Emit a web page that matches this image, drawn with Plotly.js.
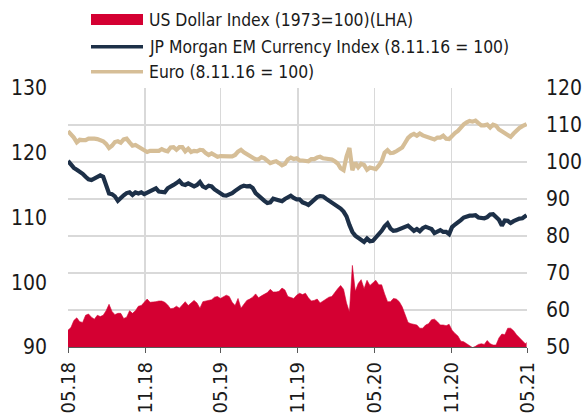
<!DOCTYPE html>
<html>
<head>
<meta charset="utf-8">
<script src="https://cdn.plot.ly/plotly-3.0.1.min.js"></script>
<style>html,body{margin:0;padding:0;background:#fff;}#chart{width:584px;height:417px;}</style>
</head>
<body>
<div id="chart"></div>
<script>
// ---- data (weekly readings) ----
const dates = [
"2018-05-01","2018-05-08","2018-05-15","2018-05-22","2018-05-29","2018-06-05","2018-06-12","2018-06-19","2018-06-26","2018-07-03",
"2018-07-10","2018-07-17","2018-07-24","2018-07-31","2018-08-07","2018-08-14","2018-08-21","2018-08-28","2018-09-04","2018-09-11",
"2018-09-18","2018-09-25","2018-10-02","2018-10-09","2018-10-16","2018-10-23","2018-10-30","2018-11-06","2018-11-13","2018-11-20",
"2018-11-27","2018-12-04","2018-12-11","2018-12-18","2018-12-25","2019-01-01","2019-01-08","2019-01-15","2019-01-22","2019-01-29",
"2019-02-05","2019-02-12","2019-02-19","2019-02-26","2019-03-05","2019-03-12","2019-03-19","2019-03-26","2019-04-02","2019-04-09",
"2019-04-16","2019-04-23","2019-04-30","2019-05-07","2019-05-14","2019-05-21","2019-05-28","2019-06-04","2019-06-11","2019-06-18",
"2019-06-25","2019-07-02","2019-07-09","2019-07-16","2019-07-23","2019-07-30","2019-08-06","2019-08-13","2019-08-20","2019-08-27",
"2019-09-03","2019-09-10","2019-09-17","2019-09-24","2019-10-01","2019-10-08","2019-10-15","2019-10-22","2019-10-29","2019-11-05",
"2019-11-12","2019-11-19","2019-11-26","2019-12-03","2019-12-10","2019-12-17","2019-12-24","2019-12-31","2020-01-07","2020-01-14",
"2020-01-21","2020-01-28","2020-02-04","2020-02-11","2020-02-18","2020-02-25","2020-03-03","2020-03-10","2020-03-17","2020-03-24",
"2020-03-31","2020-04-07","2020-04-14","2020-04-21","2020-04-28","2020-05-05","2020-05-12","2020-05-19","2020-05-26","2020-06-02",
"2020-06-09","2020-06-16","2020-06-23","2020-06-30","2020-07-07","2020-07-14","2020-07-21","2020-07-28","2020-08-04","2020-08-11",
"2020-08-18","2020-08-25","2020-09-01","2020-09-08","2020-09-15","2020-09-22","2020-09-29","2020-10-06","2020-10-13","2020-10-20",
"2020-10-27","2020-11-03","2020-11-10","2020-11-17","2020-11-24","2020-12-01","2020-12-08","2020-12-15","2020-12-22","2020-12-29",
"2021-01-05","2021-01-12","2021-01-19","2021-01-26","2021-02-02","2021-02-09","2021-02-16","2021-02-23","2021-03-02","2021-03-09",
"2021-03-16","2021-03-23","2021-03-30","2021-04-06","2021-04-13","2021-04-20","2021-04-27","2021-04-30"
];

const usdIndex = [
92.6,93.0,94.1,94.5,93.9,93.8,94.9,95.1,94.6,94.3,
94.9,94.7,94.9,95.6,96.6,95.5,95.0,95.2,95.2,94.4,
94.6,95.6,95.2,95.6,96.3,96.4,96.9,97.4,96.9,96.9,
97.0,97.1,97.1,96.9,96.5,95.9,96.0,96.3,96.0,96.5,
97.0,96.4,96.8,97.2,96.8,96.0,97.0,97.1,97.2,97.3,
97.7,97.8,97.5,97.7,98.0,97.8,96.9,96.4,97.5,96.0,
96.7,97.2,97.4,97.7,98.2,97.6,97.9,98.2,98.4,98.9,
98.5,98.5,98.6,99.1,98.8,97.8,97.7,97.5,98.0,98.3,
98.1,98.3,97.6,97.1,97.2,97.4,96.8,97.1,97.5,97.7,
97.8,98.5,99.0,99.5,98.9,96.8,95.4,102.6,98.6,99.8,
100.4,99.0,100.3,99.5,99.9,100.3,99.6,99.6,98.2,97.0,
97.0,97.5,97.4,97.0,96.2,95.0,93.8,93.6,93.5,93.4,
92.9,92.9,93.4,93.6,94.2,94.3,93.9,93.4,93.4,93.3,
93.5,92.6,92.1,91.7,90.9,90.8,90.5,90.2,89.9,90.1,
90.4,90.5,90.4,91.0,90.5,90.3,90.3,91.4,92.0,91.9,
92.9,92.9,92.5,91.9,91.4,90.9,90.5,90.7
];

const emCurrency = [
100.3,99.2,98.4,97.9,97.5,96.8,96.0,95.3,95.1,95.5,
96.0,96.4,96.0,93.3,91.5,91.3,90.7,89.5,90.4,91.0,
91.6,91.8,91.1,91.8,91.5,91.8,91.3,91.7,92.2,92.6,
92.9,92.0,91.8,91.8,92.9,93.5,93.8,94.3,94.9,94.0,
93.8,94.2,93.8,93.4,93.8,94.6,93.4,93.0,93.6,93.4,
92.6,92.1,91.6,91.0,90.9,91.2,91.6,92.2,92.9,93.3,
93.6,93.4,93.5,93.0,91.6,90.8,90.2,89.5,88.9,89.1,
90.1,89.9,89.5,89.4,90.0,90.6,90.9,90.3,89.9,89.9,
89.1,88.8,88.4,89.1,90.0,90.5,90.8,90.7,90.1,89.6,
89.2,88.4,87.9,87.4,86.6,85.3,83.0,81.1,80.1,79.6,
79.0,78.4,79.3,78.6,78.7,79.6,80.3,81.4,82.6,83.4,
82.0,81.4,81.5,81.8,82.3,82.7,82.8,82.1,81.4,81.9,
81.3,82.1,82.5,82.2,81.9,80.8,81.3,81.6,81.1,81.1,
80.5,82.4,83.1,83.6,84.3,85.0,85.4,85.5,85.5,85.6,
85.0,85.0,84.8,85.1,85.8,85.9,85.3,84.4,82.8,84.2,
84.1,83.5,84.0,84.5,84.7,84.8,85.3,85.6
];

const euroIndex = [
108.3,107.5,106.6,105.3,106.0,105.9,105.9,106.3,106.4,106.3,
106.2,106.0,105.6,104.9,103.8,104.4,105.4,105.6,105.2,106.1,
106.3,105.3,104.4,104.6,104.1,103.6,103.0,102.7,103.0,103.1,
103.0,103.0,103.5,103.1,102.9,103.9,104.0,103.3,104.0,104.0,
102.9,103.6,102.7,103.0,102.9,103.3,103.2,102.4,101.9,102.3,
101.8,101.4,101.6,101.5,101.6,101.5,101.5,101.9,102.8,103.3,
102.6,102.1,101.8,101.2,100.7,100.7,101.3,101.0,100.3,99.7,
100.0,100.2,99.7,99.1,99.5,100.7,101.2,100.8,101.0,100.4,
100.4,100.4,100.2,100.8,100.8,101.2,101.4,101.0,100.9,100.9,
100.7,100.2,99.6,98.3,97.8,101.5,103.8,97.8,99.8,98.6,
99.5,99.2,97.9,98.5,98.4,98.1,99.0,100.2,102.5,103.2,
102.4,102.5,102.9,103.3,103.9,105.2,106.5,107.2,107.6,107.1,
107.7,107.2,106.9,106.6,106.2,106.1,106.6,106.6,107.1,106.3,
106.2,107.2,107.8,108.4,109.5,110.2,110.7,111.1,110.9,111.2,
110.5,109.9,109.9,110.1,109.3,110.1,109.8,108.8,108.3,107.8,
107.2,106.8,107.7,108.6,109.2,109.7,110.0,110.2
];

const seriesNames = [
  "US Dollar Index (1973=100)(LHA)",
  "JP Morgan EM Currency Index (8.11.16 = 100)",
  "Euro (8.11.16 = 100)"
];
const tickDates = ["2018-05-01","2018-11-01","2019-05-01","2019-11-01","2020-05-01","2020-11-01","2021-05-01"];
const tickLabels = ["05.18","11.18","05.19","11.19","05.20","11.20","05.21"];
const leftTicks = [90,100,110,120,130];
const rightTicks = [50,60,70,80,90,100,110,120];

// ---- style ----
const RED = "#d40032", NAVY = "#1d3048", TAN = "#d6be97";
const FONT = "'Liberation Sans Narrow','DejaVu Sans Condensed','Arial Narrow','Liberation Sans',Arial,sans-serif";
const TXT = "#1a1a1a";
const W = 584, H = 417;
const M = {l:68, r:57, t:88, b:70};
const pw = W - M.l - M.r, ph = H - M.t - M.b;
const px2x = p => (p - M.l) / pw;
const py2y = p => (H - M.b - p) / ph;

const traces = [
  {x: dates, y: usdIndex, name: seriesNames[0], type: "scatter", mode: "lines",
   fill: "tozeroy", fillcolor: RED, line: {color: RED, width: 0.6}, yaxis: "y", showlegend: false},
  {x: dates, y: emCurrency, name: seriesNames[1], type: "scatter", mode: "lines",
   line: {color: NAVY, width: 4.2}, yaxis: "y2", showlegend: false},
  {x: dates, y: euroIndex, name: seriesNames[2], type: "scatter", mode: "lines",
   line: {color: TAN, width: 4.2}, yaxis: "y2", showlegend: false}
];

const legendRows = [py2y(19.5), py2y(46.7), py2y(71.7)];
const shapes = [
  {type: "rect", xref: "paper", yref: "paper", x0: px2x(91), x1: px2x(143), y0: py2y(25), y1: py2y(14),
   fillcolor: RED, line: {width: 0}},
  {type: "line", xref: "paper", yref: "paper", x0: px2x(91), x1: px2x(143), y0: legendRows[1], y1: legendRows[1],
   line: {color: NAVY, width: 3.6}},
  {type: "line", xref: "paper", yref: "paper", x0: px2x(91), x1: px2x(143), y0: legendRows[2], y1: legendRows[2],
   line: {color: TAN, width: 3.6}}
];
const annotations = seriesNames.map((t, i) => ({
  text: t, xref: "paper", yref: "paper", x: px2x(147), y: legendRows[i],
  xanchor: "left", yanchor: "middle", showarrow: false,
  font: {family: FONT, size: 17.4, color: TXT}
}));

const layout = {
  width: W, height: H,
  margin: {l: M.l, r: M.r, t: M.t, b: M.b, pad: 0},
  paper_bgcolor: "#ffffff", plot_bgcolor: "#ffffff",
  showlegend: false,
  font: {family: FONT, color: TXT, size: 20},
  xaxis: {
    type: "date", range: [tickDates[0], tickDates[tickDates.length - 1]],
    tickmode: "array", tickvals: tickDates, ticktext: tickLabels, tickangle: -90,
    ticks: "outside", ticklen: 5, tickwidth: 1, tickcolor: "#595959",
    showline: true, linecolor: "#595959", linewidth: 1,
    showgrid: true, gridcolor: "#d9d9d9", gridwidth: 1.2, zeroline: false,
    tickfont: {family: FONT, size: 20, color: TXT}, ticklabelstandoff: 1
  },
  yaxis: {
    range: [90, 130], tickmode: "array", tickvals: leftTicks,
    showgrid: false, zeroline: false, showline: false, ticks: "",
    tickfont: {family: FONT, size: 21, color: TXT}, ticklabelstandoff: 20
  },
  yaxis2: {
    overlaying: "y", side: "right", range: [50, 120], tickmode: "array", tickvals: rightTicks,
    showgrid: true, gridcolor: "#d9d9d9", gridwidth: 1.2, zeroline: false, showline: false, ticks: "",
    tickfont: {family: FONT, size: 21, color: TXT}, ticklabelstandoff: 18
  },
  shapes: shapes,
  annotations: annotations
};

Plotly.newPlot("chart", traces, layout, {staticPlot: true, displayModeBar: false});
</script>
</body>
</html>
